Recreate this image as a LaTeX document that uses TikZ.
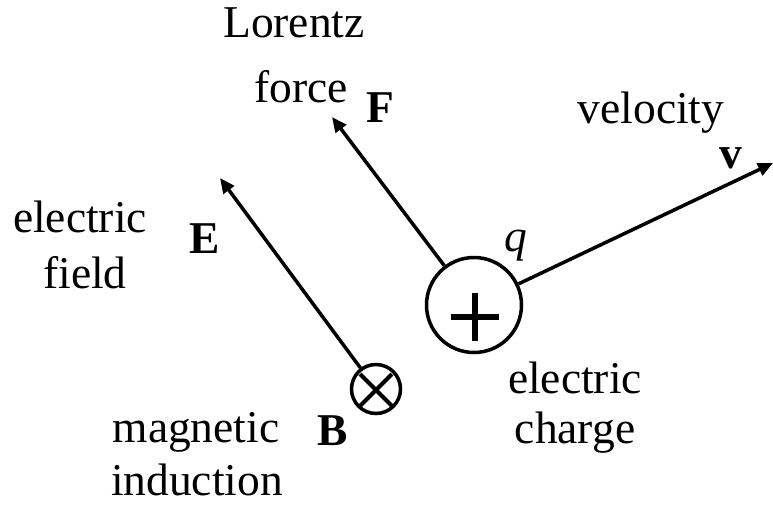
\documentclass[tikz,border=0pt]{standalone}
\usepackage{fontspec}
\setmainfont{Liberation Serif}
\usetikzlibrary{arrows.meta}
\tikzset{
  lbl/.style={anchor=base, inner sep=0pt, font=\fontsize{45.5}{54}\selectfont},
  vec/.style={line width=3.5pt, -{Triangle[length=15pt,width=13pt]}}
}
\begin{document}
\begin{tikzpicture}[x=1pt,y=-1pt]
		\useasboundingbox (0,0) rectangle (773,504);

		\node (lor) at (294,37) [lbl] {Lorentz};
		\node (frc) at (301,102) [lbl] {force};
		\node (Flbl) at (380,122) [lbl] {\bfseries F};
		\node (vel) at (651,123) [lbl] {velocity};
		\node (vlbl) at (731,168) [lbl] {\bfseries v};
		\node (ele) at (80,232) [lbl] {electric};
		\node (fld) at (85,288) [lbl] {field};
		\node (Elbl) at (205,253) [lbl] {\bfseries E};
		\node (qlbl) at (516,251) [lbl] {\itshape q};
		\node (elc) at (575,393) [lbl] {electric};
		\node (chg) at (575,443) [lbl] {charge};
		\node (mag) at (196,442) [lbl] {magnetic};
		\node (Blbl) at (333,445) [lbl] {\bfseries B};
		\node (ind) at (197,495) [lbl] {induction};

		\node (qc) at (474,305) [draw, circle, line width=3.5pt, inner sep=0pt, minimum size=95pt] {};
		\node (bc) at (376,389) [draw, circle, line width=3.5pt, inner sep=0pt, minimum size=49pt] {};

		% plus sign and cross
		\draw [line width=5.5pt] (451,317) -- (499,317);
		\draw [line width=5.5pt] (475,293) -- (475,341);
		\draw [line width=4pt] (360,374) -- (392,406);
		\draw [line width=4pt] (360,406) -- (392,374);

		\coordinate (Ftip) at (332,117);
		\coordinate (vtip) at (773,163);
		\coordinate (Etip) at (220,178);

		\draw [vec] (qc) -- (Ftip);
		\draw [vec] (qc) -- (vtip);
		\draw [vec] (bc) -- (Etip);

		\end{tikzpicture}
\end{document}
